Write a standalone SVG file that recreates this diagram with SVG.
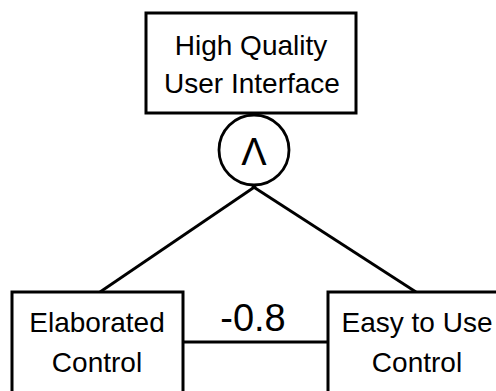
<svg xmlns="http://www.w3.org/2000/svg" width="496" height="391" viewBox="0 0 496 391">
<style>
.box{fill:#fff;stroke:#000;stroke-width:3}
.ln{stroke:#000;stroke-width:2.8;fill:none}
.t{font-family:"Liberation Sans",Arial,sans-serif;font-size:28px;fill:#000;text-anchor:middle}
</style>
<rect width="496" height="391" fill="#fff"/>
<g id="connectors">
<line class="ln" x1="256" y1="186" x2="100" y2="292"/>
<line class="ln" x1="252" y1="186" x2="416" y2="292"/>
<line class="ln" x1="183" y1="342" x2="328" y2="342"/>
<text class="t" x="253" y="331" style="font-size:38px">-0.8</text>
</g>
<g id="top">
<rect class="box" x="146" y="13" width="210" height="100"/>
<text class="t" x="251" y="55">High Quality</text>
<text class="t" x="252" y="93">User Interface</text>
</g>
<g id="and">
<circle class="ln" cx="254" cy="150" r="35" fill="#fff"/>
<text class="t" x="254" y="165" style="font-size:38px">Λ</text>
</g>
<g id="elaborated">
<rect class="box" x="12" y="292" width="171" height="110"/>
<text class="t" x="97" y="332">Elaborated</text>
<text class="t" x="97" y="372">Control</text>
</g>
<g id="easy">
<rect class="box" x="328" y="292" width="171" height="110"/>
<text class="t" x="417" y="332">Easy to Use</text>
<text class="t" x="417" y="372">Control</text>
</g>
</svg>
